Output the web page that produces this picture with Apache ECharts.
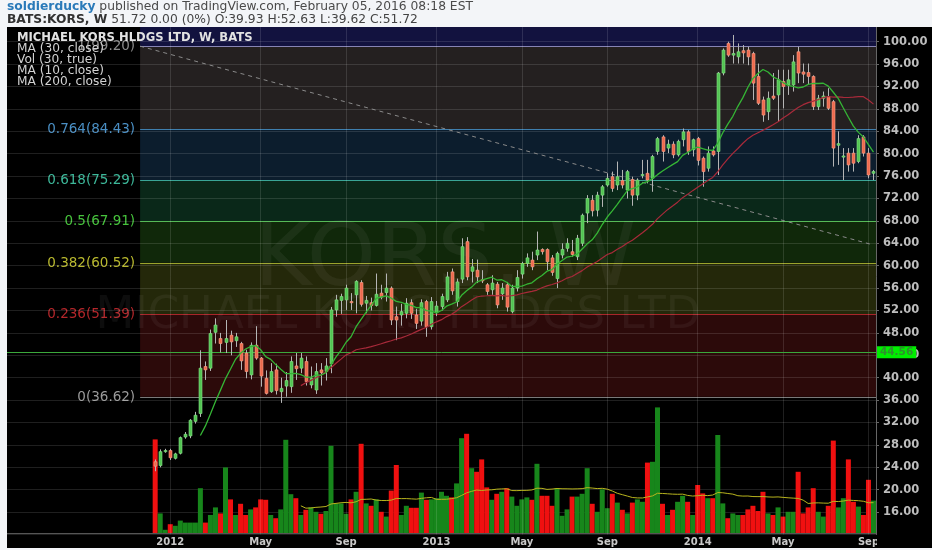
<!DOCTYPE html>
<html><head><meta charset="utf-8">
<script src="https://cdn.jsdelivr.net/npm/echarts@6/dist/echarts.min.js"></script>
<style>html,body{margin:0;padding:0;background:#f3f5f8;}#c{width:932px;height:550px;}</style>
</head><body><div id="c"></div>
<script>
// ---------------- data (weekly bars, BATS:KORS) ----------------
const firstWeek = '2011-12-12';
const leadBlanks = 29;
const opens  = [25.0,24.3,26.9,27.0,25.6,26.5,29.4,29.6,32.2,33.6,42.0,41.7,48.1,47.0,46.3,47.6,46.6,46.1,44.4,40.5,45.8,43.5,39.9,37.5,41.4,37.5,38.5,38.4,42.1,41.7,42.9,38.7,37.8,41.4,41.1,42.5,52.1,53.8,53.9,53.6,54.8,57.0,53.3,53.4,52.9,55.1,55.2,56.0,50.9,51.2,51.5,53.4,51.2,50.1,53.6,49.1,51.6,52.7,53.9,58.9,53.6,57.6,64.3,59.0,59.2,57.5,56.6,55.7,56.7,55.0,56.6,51.8,56.0,58.5,60.4,61.0,61.9,62.9,62.9,61.4,57.7,61.9,63.1,62.5,61.6,64.0,69.4,71.7,69.9,72.6,74.4,75.9,74.4,75.2,73.5,75.4,72.6,76.1,76.5,75.6,80.4,83.0,81.0,81.7,79.8,82.5,83.9,80.7,82.7,79.2,77.4,80.5,80.4,94.4,99.7,97.6,97.3,98.4,98.5,97.9,93.8,89.6,87.5,90.3,90.5,92.9,92.3,92.3,98.2,94.6,94.5,93.8,88.4,89.9,90.2,89.3,81.5,79.4,80.1,80.1,78.6,83.0,80.1,76.5];
const closes = [24.2,26.8,27.0,25.7,26.4,29.3,29.9,32.4,33.3,41.7,41.4,47.9,49.4,46.1,47.0,46.4,47.3,43.0,41.1,45.8,43.5,40.3,37.2,41.1,37.7,38.1,39.5,42.9,41.6,43.5,39.3,39.9,41.1,40.9,42.1,52.1,53.9,54.5,56.0,53.4,57.2,53.1,53.8,52.9,54.9,54.4,56.0,50.3,50.3,51.8,53.3,51.5,49.7,53.4,49.1,53.6,52.8,54.5,58.0,55.5,57.1,63.4,58.0,59.8,58.0,57.3,55.4,56.9,53.0,56.0,52.6,56.0,57.9,60.4,61.4,59.8,62.8,62.5,60.7,58.8,62.2,62.9,64.0,62.0,64.9,69.0,72.0,69.8,72.6,74.1,75.6,73.8,75.9,74.4,76.8,72.6,75.3,76.3,75.3,79.5,82.7,80.4,81.7,79.8,82.2,83.9,80.4,82.5,78.8,76.8,80.1,79.8,94.4,98.5,97.6,97.9,98.2,98.0,97.3,92.6,89.0,86.9,89.9,89.9,93.2,92.0,93.2,96.4,94.4,94.2,93.8,88.4,89.9,90.3,88.1,81.0,81.8,79.6,78.0,78.3,82.7,80.1,76.2,76.82];
const lows   = [23.3,24.0,26.6,25.3,25.4,26.3,29.1,29.2,31.8,33.0,39.6,41.2,46.1,44.5,44.4,44.0,45.5,41.4,39.9,39.7,43.2,38.4,37.0,37.3,37.0,35.5,36.6,37.3,39.6,40.8,38.6,38.1,37.1,38.6,39.5,40.8,50.9,51.4,52.1,52.1,51.5,52.7,51.5,52.0,52.7,54.0,53.6,49.4,46.7,49.3,50.6,50.5,48.7,49.3,47.3,48.6,51.0,52.0,53.5,54.8,52.7,56.9,57.4,57.0,56.9,56.9,54.8,54.8,52.4,53.9,51.8,51.5,55.4,57.7,59.8,59.2,61.0,62.0,59.2,58.2,56.0,61.3,62.5,61.6,61.0,63.5,67.6,68.8,68.8,70.5,74.1,73.2,73.5,73.8,72.0,70.7,71.7,75.6,74.7,73.2,79.8,78.6,80.1,79.2,79.5,81.3,79.8,79.5,77.9,74.1,76.8,79.5,76.2,94.0,97.3,96.1,96.1,96.1,95.8,89.6,88.7,85.7,86.0,89.6,85.7,88.1,90.5,91.1,92.6,92.6,92.3,87.8,87.8,88.4,87.8,77.7,78.0,75.3,76.8,76.8,78.3,79.5,75.6,75.3];
const highs  = [25.4,27.2,27.3,27.3,26.6,29.5,30.3,32.6,33.9,44.9,42.9,48.6,50.6,48.0,50.3,48.4,48.0,46.4,45.0,46.3,49.2,43.7,41.3,42.6,42.5,40.0,41.0,43.8,44.4,44.4,43.8,42.0,42.6,42.6,43.5,52.63,54.8,55.0,56.6,55.1,57.4,57.4,54.6,54.3,58.6,56.6,58.6,56.3,52.7,53.2,54.2,54.0,52.3,54.0,53.9,54.4,53.7,55.0,58.9,59.5,57.7,64.9,65.1,61.2,61.1,59.2,56.9,58.3,57.1,56.9,57.1,56.6,59.2,60.7,62.2,62.5,66.1,63.1,63.1,61.9,62.5,64.0,64.9,64.6,65.5,69.3,72.6,72.6,73.2,74.4,76.5,76.8,78.6,77.1,77.1,75.9,75.6,78.9,78.9,79.8,83.0,83.3,82.5,82.2,82.5,84.5,84.2,82.7,83.0,79.5,81.3,81.3,94.6,98.8,100.0,101.2,99.7,99.4,99.1,98.2,96.1,90.2,91.1,94.4,95.0,95.0,95.0,97.6,99.1,96.1,96.1,94.0,90.5,91.1,91.7,89.6,84.0,81.0,81.0,81.0,83.3,83.3,81.0,77.1];
// weekly volume, millions of shares
const volumes = [23.4,4.9,0.8,2.2,1.8,3.1,2.6,2.6,2.6,11.2,2.6,4.5,6.4,4.9,16.4,8.4,4.5,7.3,4.5,5.9,6.4,8.4,8.3,4.5,3.7,5.9,23.3,9.7,8.7,4.5,5.8,6.4,5.3,4.8,5.5,21.8,7.4,7.4,4.8,8.4,10.3,22.3,7.4,6.8,8.4,5.3,4.1,10.6,17.0,4.5,6.8,6.3,6.3,10.1,8.3,8.4,8.7,10.3,9.3,8.9,12.4,23.7,24.8,16.2,15.3,18.4,11.4,8.3,9.8,10.3,11.2,9.1,6.8,8.4,8.9,8.3,17.3,9.3,9.3,6.8,11.2,4.3,5.9,9.1,9.1,9.8,16.2,7.3,5.3,10.9,6.2,9.8,7.6,5.8,4.9,7.6,8.4,7.8,17.6,17.8,31.4,7.3,4.5,5.8,7.8,9.3,7.8,4.5,12.0,9.9,8.7,8.7,24.5,7.4,3.7,4.9,4.5,4.5,5.9,6.8,5.5,10.3,4.9,4.5,6.4,4.1,5.3,5.3,15.3,4.9,6.4,11.2,5.3,4.1,6.8,23.1,6.4,8.7,18.4,7.8,6.6,4.5,13.3,8.1];
// Fibonacci retracement drawn by the author
const fibRatios = ['1','0.764','0.618','0.5','0.382','0.236','0'];
const fibLevels = [99.20,84.43,75.29,67.91,60.52,51.39,36.62];
const fibStartIdx = 26;
const trendFrom = [26, 99.2];
const trendTo = [172, 63.7];
const supportLevel = 44.56;
const lastPrice = 76.82;
const priceMin = 12, priceMax = 104, priceStep = 4;
const labelMonths = [0, 4, 8];
const monthNames = ['Jan','Feb','Mar','Apr','May','Jun','Jul','Aug','Sep','Oct','Nov','Dec'];

// ---------------- build ----------------
const nBars = opens.length;
const cats = [];
for (let i = 0; i < leadBlanks; i++) cats.push('pad' + i);
const dates = [];
const d0 = new Date(firstWeek + 'T00:00:00Z');
for (let i = 0; i < nBars; i++) {
  const d = new Date(d0.getTime() + i * 7 * 86400000);
  dates.push(d);
  cats.push(d.toISOString().slice(0, 10));
}
const labelMap = {};
for (let i = 1; i < nBars; i++) {
  const m = dates[i].getUTCMonth();
  if (m !== dates[i - 1].getUTCMonth() && labelMonths.indexOf(m) >= 0) {
    labelMap[leadBlanks + i] = m === 0 ? String(dates[i].getUTCFullYear()) : monthNames[m];
  }
}
const labelIdx = Object.keys(labelMap).map(Number);

function sma(arr, n) {
  return arr.map((v, i) => i < n - 1 ? null : arr.slice(i - n + 1, i + 1).reduce((a, b) => a + b, 0) / n);
}
function pad(arr) {
  const out = [];
  for (let i = 0; i < leadBlanks; i++) out.push('-');
  arr.forEach(v => out.push(v == null ? '-' : +v.toFixed(3)));
  return out;
}
const ma10 = pad(sma(closes, 10));
const ma30 = pad(sma(closes, 30));
const volMa = pad(sma(volumes, 30));

const candleData = opens.map((o, i) => [leadBlanks + i, o, closes[i], lows[i], highs[i]]);
const volData = [];
for (let i = 0; i < leadBlanks; i++) volData.push('-');
volumes.forEach((v, i) => volData.push({
  value: v,
  itemStyle: { color: closes[i] >= opens[i] ? '#17861b' : '#f01010' }
}));

const zoneColors = ['#12123f', '#242020', '#0c1d2d', '#0a2819', '#10280a', '#24280a', '#2c0a0a'];
const lineColors = ['#8784b4', '#3f7fae', '#3aa596', '#3fb040', '#9aa42c', '#a8262a', '#7a7a7a'];
const textColors = ['#8c8c8c', '#4a8fc4', '#3db89a', '#46c23c', '#b8b82e', '#b3262a', '#9a9a9a'];
const zoneData = fibLevels.map((lv, k) => [fibStartIdx, k === 0 ? priceMax : fibLevels[k - 1], lv]);
const fibLineData = fibLevels.map(lv => [fibStartIdx, lv]);

const font = '"DejaVu Sans", Verdana, sans-serif';

const chart = echarts.init(document.getElementById('c'), null, { width: 932, height: 550 });
chart.setOption({
  backgroundColor: '#000',
  animation: false,
  grid: { left: 7, right: 56, top: 19.3, bottom: 15.5 },
  xAxis: {
    type: 'category', data: cats, boundaryGap: true,
    axisLine: { lineStyle: { color: '#555' } },
    axisTick: { show: false },
    splitLine: { show: false },
    axisLabel: {
      interval: (idx) => labelMap[idx] !== undefined,
      formatter: (v, idx) => labelMap[idx] || '',
      color: '#c8c8c8', fontWeight: 'bold', fontSize: 10, fontFamily: font, margin: 3
    }
  },
  yAxis: [{
    type: 'value', position: 'right', min: priceMin, max: priceMax, interval: priceStep, z: 3,
    axisLine: { show: true, lineStyle: { color: '#666' } },
    axisTick: { show: true, length: 3, lineStyle: { color: '#666' } },
    axisLabel: { formatter: v => v.toFixed(2), color: '#bdbdbd', fontWeight: 'bold', fontSize: 11.5, fontFamily: font, margin: 7, showMinLabel: false, showMaxLabel: false },
    splitLine: { lineStyle: { color: 'rgba(255,255,255,0.12)', width: 1 } }
  }, {
    type: 'value', min: -0.375, max: 128.425, show: false, splitLine: { show: false }
  }],
  series: [
    { // fib zones
      type: 'custom', name: 'fibZones', z: 1, silent: true,
      encode: { x: 0, y: [1, 2] },
      data: zoneData,
      renderItem: (params, api) => {
        const cs = params.coordSys;
        const p1 = api.coord([api.value(0), api.value(1)]);
        const p2 = api.coord([api.value(0), api.value(2)]);
        const y1 = Math.max(p1[1], cs.y);
        return { type: 'rect', shape: { x: p1[0], y: y1, width: cs.x + cs.width - p1[0], height: p2[1] - y1 },
                 style: { fill: zoneColors[params.dataIndex] } };
      }
    },
    { // grid verticals + trend line
      type: 'line', name: 'guides', z: 2, silent: true, data: cats.map(() => '-'),
      markLine: {
        silent: true, symbol: 'none', animation: false, label: { show: false },
        data: labelIdx.map(i => ({ xAxis: cats[i], lineStyle: { color: 'rgba(255,255,255,0.12)', width: 1, type: 'solid' } }))
          .concat([[{ coord: [cats[trendFrom[0]], trendFrom[1]] }, { coord: [cats[trendTo[0]], trendTo[1]], lineStyle: { color: '#8a8a8a', width: 1, type: [4, 4] } }]])
      }
    },
    { // fib lines + labels
      type: 'custom', name: 'fibLines', z: 2, silent: true,
      encode: { x: 0, y: 1 },
      data: fibLineData,
      renderItem: (params, api) => {
        const cs = params.coordSys;
        const k = params.dataIndex;
        const p = api.coord([api.value(0), api.value(1)]);
        const y = Math.round(p[1]) + 0.5;
        return { type: 'group', children: [
          { type: 'line', shape: { x1: p[0], y1: y, x2: cs.x + cs.width, y2: y }, style: { stroke: lineColors[k], lineWidth: 1 } },
          { type: 'text', style: { text: fibRatios[k] + '(' + fibLevels[k].toFixed(2) + ')', x: p[0] - 5, y: y, align: 'right', verticalAlign: 'middle',
              fill: textColors[k], font: '13.5px ' + font } }
        ] };
      }
    },
    { // volume
      type: 'bar', name: 'Volume', yAxisIndex: 1, z: 4, data: volData, barWidth: 5, silent: true
    },
    {
      type: 'line', name: 'Vol MA30', yAxisIndex: 1, z: 5, data: volMa, showSymbol: false, silent: true,
      lineStyle: { color: '#b9b51e', width: 1 }
    },
    { // candles
      type: 'custom', name: 'KORS', z: 6, silent: true,
      encode: { x: 0, y: [1, 2, 3, 4] },
      data: candleData,
      renderItem: (params, api) => {
        const xi = api.value(0);
        const o = api.value(1), c = api.value(2), l = api.value(3), h = api.value(4);
        const pH = api.coord([xi, h]), pL = api.coord([xi, l]);
        const pO = api.coord([xi, o]), pC = api.coord([xi, c]);
        const up = c >= o;
        const x = Math.round(pH[0]);
        const top = Math.min(pO[1], pC[1]), bot = Math.max(pO[1], pC[1]);
        return { type: 'group', children: [
          { type: 'line', shape: { x1: x + 0.5, y1: pH[1], x2: x + 0.5, y2: pL[1] }, style: { stroke: '#b5b5b5', lineWidth: 1 } },
          { type: 'rect', shape: { x: x - 1, y: top, width: 3, height: Math.max(1.2, bot - top) },
            style: { fill: up ? '#52c452' : '#ee6a4e', stroke: up ? '#86e086' : '#f9a088', lineWidth: 0.6 } }
        ] };
      }
    },
    {
      type: 'line', name: 'MA30', z: 7, data: ma30, showSymbol: false, silent: true,
      lineStyle: { color: '#a82a3a', width: 1.2 }
    },
    {
      type: 'line', name: 'MA10', z: 7, data: ma10, showSymbol: false, silent: true,
      lineStyle: { color: '#35b535', width: 1.3 }
    },
    { // price level markers
      type: 'line', name: 'levels', z: 8, silent: true, data: cats.map(() => '-'),
      markLine: {
        silent: true, symbol: 'none', animation: false,
        data: [
          { yAxis: supportLevel, lineStyle: { color: '#3ba83b', width: 1, type: 'solid' },
            label: { show: true, position: 'end', distance: 1, formatter: supportLevel.toFixed(2), backgroundColor: '#00ee00',
                     color: '#2f8f2f', fontWeight: 'bold', fontSize: 10.5, fontFamily: font, padding: [1, 3, 0, 3] } },
          { yAxis: lastPrice, lineStyle: { width: 0, opacity: 0 },
            label: { show: true, position: 'end', distance: 1, formatter: lastPrice.toFixed(2), backgroundColor: '#44b244',
                     color: '#ffffff', fontWeight: 'bold', fontSize: 10.5, fontFamily: font, padding: [1, 3, 0, 3] } }
        ]
      }
    }
  ],
  graphic: [
    // watermark
    { type: 'text', z: 3, silent: true, style: { text: 'KORS, W', x: 445, y: 262, align: 'center', verticalAlign: 'middle',
        font: '88px ' + font, fill: 'rgba(255,255,255,0.05)' } },
    { type: 'text', z: 3, silent: true, style: { text: 'MICHAEL KORS HLDGS LTD', x: 398, y: 316, align: 'center', verticalAlign: 'middle',
        font: '45px ' + font, fill: 'rgba(255,255,255,0.05)' } },
    // legend
    { type: 'text', z: 50, silent: true, style: { text: 'MICHAEL KORS HLDGS LTD, W, BATS', x: 17, y: 38, verticalAlign: 'middle', font: 'bold 11.6px ' + font, fill: '#e2e2e2' } },
    { type: 'text', z: 50, silent: true, style: { text: 'MA (30, close)', x: 17, y: 49, verticalAlign: 'middle', font: '12.2px ' + font, fill: '#d2d2d2' } },
    { type: 'text', z: 50, silent: true, style: { text: 'Vol (30, true)', x: 17, y: 60, verticalAlign: 'middle', font: '12.2px ' + font, fill: '#d2d2d2' } },
    { type: 'text', z: 50, silent: true, style: { text: 'MA (10, close)', x: 17, y: 71, verticalAlign: 'middle', font: '12.2px ' + font, fill: '#d2d2d2' } },
    { type: 'text', z: 50, silent: true, style: { text: 'MA (200, close)', x: 17, y: 82, verticalAlign: 'middle', font: '12.2px ' + font, fill: '#d2d2d2' } },
    // clip of last x label
    { type: 'rect', z: 60, silent: true, shape: { x: 877, y: 536, width: 55, height: 12 }, style: { fill: '#000' } },
    // page margins
    { type: 'rect', z: 90, silent: true, shape: { x: 0, y: 0, width: 932, height: 27 }, style: { fill: '#f3f5f8' } },
    { type: 'rect', z: 90, silent: true, shape: { x: 0, y: 0, width: 7, height: 550 }, style: { fill: '#f3f5f8' } },
    { type: 'rect', z: 90, silent: true, shape: { x: 0, y: 548, width: 932, height: 2 }, style: { fill: '#f3f5f8' } },
    // header
    { type: 'text', z: 95, silent: true, style: { text: '{a|soldierducky}{b| published on TradingView.com, February 05, 2016 08:18 EST}', x: 7, y: 7, verticalAlign: 'middle',
        rich: { a: { fill: '#2a7ab9', fontWeight: 'bold', fontSize: 12.3, fontFamily: font }, b: { fill: '#4a4a4a', fontSize: 12.3, fontFamily: font } } } },
    { type: 'text', z: 95, silent: true, style: { text: '{a|BATS:KORS, W}{b| 51.72 0.00 (0%) O:39.93 H:52.63 L:39.62 C:51.72}', x: 7, y: 20, verticalAlign: 'middle',
        rich: { a: { fill: '#333', fontWeight: 'bold', fontSize: 12.3, fontFamily: font }, b: { fill: '#444', fontSize: 12.3, fontFamily: font } } } }
  ]
});
</script></body></html>
